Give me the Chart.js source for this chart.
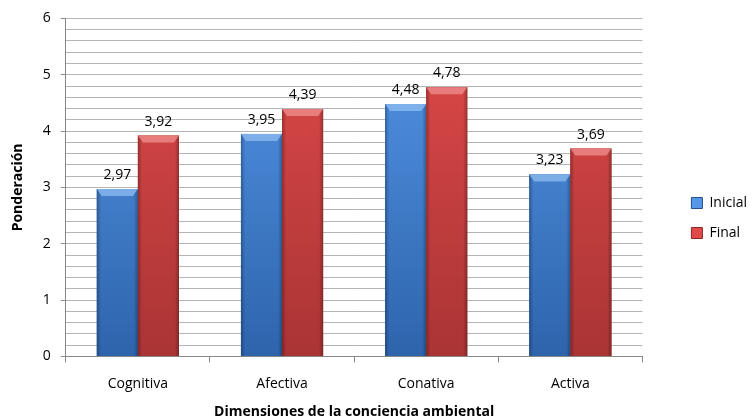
<!DOCTYPE html>
<html>
<head>
<meta charset="utf-8">
<script src="https://cdn.jsdelivr.net/npm/chart.js@4.4.0/dist/chart.umd.min.js"></script>
<style>
  html, body { margin: 0; padding: 0; background: #fff; }
  #wrap { width: 753px; height: 419px; }
</style>
</head>
<body>
<div id="wrap"><canvas id="grafico"></canvas></div>
<script>
// datos
const dimensiones = ['Cognitiva', 'Afectiva', 'Conativa', 'Activa'];
const inicial = [2.97, 3.95, 4.48, 3.23];
const final = [3.92, 4.39, 4.78, 3.69];
const nombresSeries = ['Inicial', 'Final'];

const FUENTE = "'Open Sans', 'Liberation Sans', sans-serif";

// colores de cada serie: [arriba, abajo, bisel, borde leyenda]
const tonos = [
    ['#5597e8', '#2e64ac', '#8fbdf2', '#25508c'],
    ['#e04a4a', '#aa3434', '#f09090', '#8c2525']
];

function formatoComa(v) {
    return v.toFixed(2).replace('.', ',');
}

// relleno de barras con degradado y bisel superior
const degradadoBarras = {
    id: 'degradadoBarras',
    afterDatasetsDraw(chart) {
        const ctx = chart.ctx;
        const area = chart.chartArea;
        chart.data.datasets.forEach((ds, i) => {
            const meta = chart.getDatasetMeta(i);
            meta.data.forEach(bar => {
                const izq = bar.x - bar.width / 2;
                const der = bar.x + bar.width / 2;
                const arriba = bar.y;
                const base = bar.base;
                ctx.save();
                // degradado vertical
                const gv = ctx.createLinearGradient(0, area.top, 0, area.bottom);
                gv.addColorStop(0, tonos[i][0]);
                gv.addColorStop(1, tonos[i][1]);
                ctx.fillStyle = gv;
                ctx.fillRect(izq, arriba, der - izq, base - arriba);
                // sombra en los bordes
                const gh = ctx.createLinearGradient(izq, 0, der, 0);
                gh.addColorStop(0, 'rgba(0,0,0,0.28)');
                gh.addColorStop(0.1, 'rgba(0,0,0,0.0)');
                gh.addColorStop(0.9, 'rgba(0,0,0,0.0)');
                gh.addColorStop(1, 'rgba(0,0,0,0.28)');
                ctx.fillStyle = gh;
                ctx.fillRect(izq, arriba, der - izq, base - arriba);
                // bisel superior
                ctx.beginPath();
                ctx.moveTo(izq, arriba);
                ctx.lineTo(der, arriba);
                ctx.lineTo(der - 5, arriba + 7);
                ctx.lineTo(izq + 5, arriba + 7);
                ctx.closePath();
                ctx.fillStyle = tonos[i][2];
                ctx.globalAlpha = 0.75;
                ctx.fill();
                ctx.restore();
            });
        });
    }
};

// etiquetas con valores encima de las barras
const etiquetasValor = {
    id: 'etiquetasValor',
    afterDatasetsDraw(chart) {
        const ctx = chart.ctx;
        ctx.save();
        ctx.font = '14px ' + FUENTE;
        ctx.fillStyle = '#000';
        ctx.textAlign = 'center';
        ctx.textBaseline = 'bottom';
        chart.data.datasets.forEach((ds, i) => {
            const meta = chart.getDatasetMeta(i);
            meta.data.forEach((bar, j) => {
                ctx.fillText(formatoComa(ds.data[j]), bar.x, bar.y - 7);
            });
        });
        ctx.restore();
    }
};

// mueve la leyenda hacia la derecha, como en el original
const moverLeyenda = {
    id: 'moverLeyenda',
    afterLayout(chart) {
        const lg = chart.legend;
        if (lg) {
            lg.left += 33;
            lg.right += 33;
            lg.top += 2;
            lg.bottom += 2;
        }
    }
};

document.addEventListener('DOMContentLoaded', () => {
    const ctx = document.getElementById('grafico').getContext('2d');
    new Chart(ctx, {
        type: 'bar',
        data: {
            labels: dimensiones,
            datasets: [
                { label: nombresSeries[0], data: inicial, backgroundColor: tonos[0][1], borderWidth: 0 },
                { label: nombresSeries[1], data: final, backgroundColor: tonos[1][1], borderWidth: 0 }
            ]
        },
        options: {
            responsive: true,
            maintainAspectRatio: false,
            animation: false,
            layout: { padding: { top: 12, right: 29, left: 10, bottom: -1 } },
            datasets: {
                bar: { categoryPercentage: 0.57, barPercentage: 1 }
            },
            plugins: {
                legend: {
                    position: 'right',
                    labels: {
                        boxWidth: 11,
                        boxHeight: 11,
                        padding: 16,
                        color: '#000',
                        font: { family: FUENTE, size: 14 },
                        generateLabels(chart) {
                            return chart.data.datasets.map((ds, i) => ({
                                text: ds.label,
                                fillStyle: tonos[i][0],
                                strokeStyle: tonos[i][3],
                                lineWidth: 1,
                                datasetIndex: i
                            }));
                        }
                    }
                },
                tooltip: { enabled: false }
            },
            scales: {
                x: {
                    offset: true,
                    grid: {
                        offset: true,
                        drawOnChartArea: false,
                        tickLength: 6,
                        color: '#888'
                    },
                    border: { color: '#888' },
                    ticks: {
                        color: '#000',
                        padding: 13,
                        font: { family: FUENTE, size: 14 }
                    },
                    title: {
                        display: true,
                        text: 'Dimensiones de la conciencia ambiental',
                        color: '#000',
                        font: { family: FUENTE, size: 14, weight: 'bold' },
                        padding: { top: -2, bottom: 0 }
                    }
                },
                y: {
                    min: 0,
                    max: 6,
                    ticks: {
                        stepSize: 0.2,
                        autoSkip: false,
                        color: '#000',
                        padding: 10,
                        font: { family: FUENTE, size: 14 },
                        callback: v => (Math.abs(v - Math.round(v)) < 1e-6 ? Math.round(v) : '')
                    },
                    grid: {
                        color: '#b4b4b4',
                        tickLength: 5,
                        tickColor: c => (Math.abs(c.tick.value - Math.round(c.tick.value)) < 1e-6 ? '#888' : 'transparent')
                    },
                    border: { color: '#888' },
                    title: {
                        display: true,
                        text: 'Ponderación',
                        color: '#000',
                        font: { family: FUENTE, size: 14, weight: 'bold' },
                        padding: { top: 0, bottom: 6 }
                    }
                }
            }
        },
        plugins: [degradadoBarras, etiquetasValor, moverLeyenda]
    });
});
</script>
</body>
</html>
